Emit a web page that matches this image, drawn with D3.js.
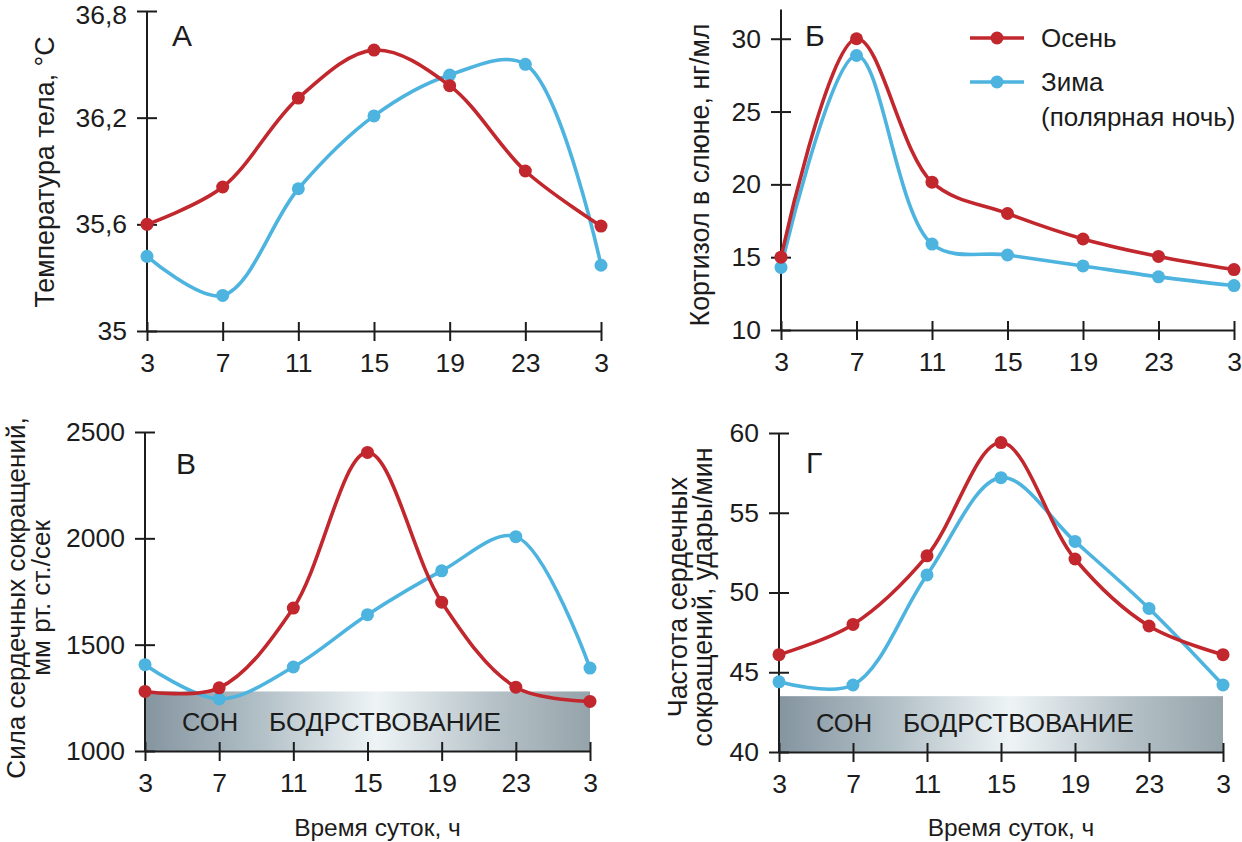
<!DOCTYPE html>
<html><head><meta charset="utf-8">
<script src="https://cdn.jsdelivr.net/npm/d3@7/dist/d3.min.js"></script>
<style>
html,body{margin:0;padding:0;background:#fff;}
svg{display:block;font-family:"Liberation Sans",Arial,sans-serif;}
</style></head>
<body><svg id="c" width="1242" height="842"></svg>
<script>
// ---- data ----
const hourLabels = ["3","7","11","15","19","23","3"];
const seriesNames = ["Осень","Зима","(полярная ночь)"];
// A: body temperature, °C
const tempAutumn = [35.60, 35.81, 36.31, 36.58, 36.38, 35.90, 35.59];
const tempWinter = [35.42, 35.20, 35.80, 36.21, 36.44, 36.50, 35.37];
const tempTicks = [35, 35.6, 36.2, 36.8];
const tempTickLabels = ["35","35,6","36,2","36,8"];
// Б: salivary cortisol, ng/ml
const cortAutumn = [15.0, 30.0, 20.15, 18.0, 16.25, 15.05, 14.15];
const cortWinter = [14.3, 28.85, 15.9, 15.15, 14.4, 13.65, 13.05];
const cortTicks = [10, 15, 20, 25, 30];
// В: heart contraction force
const forceAutumn = [1280, 1297, 1672, 2404, 1700, 1300, 1233];
const forceWinter = [1406, 1245, 1395, 1641, 1847, 2008, 1390];
const forceTicks = [1000, 1500, 2000, 2500];
const forceBand = 1280;
// Г: heart rate
const rateAutumn = [46.1, 48.0, 52.3, 59.4, 52.1, 47.9, 46.1];
const rateWinter = [44.4, 44.2, 51.1, 57.2, 53.2, 49.0, 44.2];
const rateTicks = [40, 45, 50, 55, 60];
const rateBand = 43.5;
const bandLabels = ["СОН", "БОДРСТВОВАНИЕ"];

const RED = "#c1272d", BLUE = "#4db3df", INK = "#1c1c1c";
const svg = d3.select("#c");

// gradient for sleep/wake band
const defs = svg.append("defs");
const grad = defs.append("linearGradient").attr("id","band").attr("x1","0").attr("x2","1").attr("y1","0").attr("y2","0");
[[0,"#8595a0"],[0.25,"#b0bec5"],[0.52,"#eef4f6"],[0.78,"#b6c2c8"],[1,"#95a3aa"]]
  .forEach(([o,c])=>grad.append("stop").attr("offset",o).attr("stop-color",c));

function panel(cfg){
  const g = svg.append("g");
  const x = d3.scaleLinear().domain([0, hourLabels.length-1]).range([cfg.x0, cfg.x1]);
  const y = d3.scaleLinear().domain(cfg.yDomain).range([cfg.yb, cfg.yt]);
  if (cfg.band !== undefined){
    g.append("rect").attr("x", x(0)).attr("width", x(6)-x(0))
      .attr("y", y(cfg.band)).attr("height", y(cfg.yDomain[0]) - y(cfg.band))
      .attr("fill","url(#band)");
    g.append("text").attr("x", x(0)+37).attr("y", cfg.yb-20).text(bandLabels[0])
      .attr("font-size",25.5).attr("fill",INK);
    g.append("text").attr("x", x(0)+124).attr("y", cfg.yb-20).text(bandLabels[1])
      .attr("font-size",25.5).attr("fill",INK).attr("textLength",cfg.wakeLen).attr("lengthAdjust","spacingAndGlyphs");
  }
  // y axis
  const ya = g.append("g").attr("transform",`translate(${cfg.x0},0)`)
    .call(d3.axisLeft(y).tickValues(cfg.ticks).tickSize(10).tickSizeOuter(0).tickPadding(10)
      .tickFormat((d,i)=>cfg.tickLabels ? cfg.tickLabels[i] : d));
  ya.select(".domain").attr("d", `M0,${cfg.axTop}V${cfg.yb}`);
  ya.selectAll(".tick line").attr("x1",10);
  // x axis
  const xa = g.append("g").attr("transform",`translate(0,${cfg.yb})`)
    .call(d3.axisBottom(x).tickValues(d3.range(7)).tickSize(10).tickSizeOuter(0).tickPadding(12)
      .tickFormat((d)=>hourLabels[d]));
  xa.selectAll(".tick line").attr("y1",-9);
  [ya,xa].forEach(a=>{
    a.selectAll(".domain,.tick line").attr("stroke",INK).attr("stroke-width",2);
    a.selectAll("text").attr("font-size",26.5).attr("fill",INK).attr("font-family","Liberation Sans, Arial, sans-serif");
  });
  if (cfg.topLabelShift) ya.selectAll(".tick text").filter(d=>d===cfg.yDomain[1]).attr("y",cfg.topLabelShift);
  // lines
  const line = d3.line().x((d,i)=>x(i)).y(d=>y(d)).curve(d3.curveCatmullRom.alpha(0.5));
  [[cfg.winter,BLUE],[cfg.autumn,RED]].forEach(([vals,col])=>{
    g.append("path").datum(vals).attr("d",line).attr("fill","none").attr("stroke",col)
      .attr("stroke-width",3.6).attr("stroke-linejoin","round");
  });
  [[cfg.winter,BLUE],[cfg.autumn,RED]].forEach(([vals,col])=>{
    g.selectAll(null).data(vals).enter().append("circle")
      .attr("cx",(d,i)=>x(i)).attr("cy",d=>y(d)).attr("r",6.5).attr("fill",col);
  });
  // panel letter
  g.append("text").attr("x",cfg.letterX).attr("y",cfg.letterY).text(cfg.letter)
    .attr("font-size",30).attr("fill",INK);
  // y title
  cfg.title.forEach((t,i)=>{
    g.append("text").attr("transform",`translate(${cfg.titleX[i]},${cfg.titleY}) rotate(-90)`)
      .attr("text-anchor","middle").attr("font-size",cfg.titleSize||26.8).attr("fill",INK).text(t);
  });
  if (cfg.xTitle){
    g.append("text").attr("x",(cfg.x0+cfg.x1)/2+10).attr("y",836).attr("text-anchor","middle")
      .attr("font-size",24.5).attr("fill",INK).text("Время суток, ч");
  }
}

panel({x0:147,x1:601,yt:11,yb:331,axTop:11,yDomain:[35,36.8],ticks:tempTicks,tickLabels:tempTickLabels,topLabelShift:4,
  autumn:tempAutumn,winter:tempWinter,letter:"А",letterX:172,letterY:46,
  title:["Температура тела, °С"],titleX:[54],titleY:172});
panel({x0:781,x1:1234,yt:9.6,yb:330,axTop:9.6,yDomain:[10,32],ticks:cortTicks,
  autumn:cortAutumn,winter:cortWinter,letter:"Б",letterX:805,letterY:46,
  title:["Кортизол в слюне, нг/мл"],titleX:[709],titleY:175});
panel({x0:145,x1:590,yt:432,yb:751,axTop:432,yDomain:[1000,2500],ticks:forceTicks,band:forceBand,wakeLen:232,
  autumn:forceAutumn,winter:forceWinter,letter:"В",letterX:176,letterY:474,titleSize:26,
  title:["Сила сердечных сокращений,","мм рт. ст./сек"],titleX:[25,50],titleY:598,xTitle:true});
panel({x0:779,x1:1223,yt:433,yb:752,axTop:433,yDomain:[40,60],ticks:rateTicks,band:rateBand,wakeLen:231,
  autumn:rateAutumn,winter:rateWinter,letter:"Г",letterX:806,letterY:473,
  title:["Частота сердечных","сокращений, удары/мин"],titleX:[687,712],titleY:597,xTitle:true});

// legend
const lg = svg.append("g");
[[RED,38,seriesNames[0]],[BLUE,82,seriesNames[1]]].forEach(([c,yy,t])=>{
  lg.append("line").attr("x1",970).attr("x2",1024).attr("y1",yy).attr("y2",yy).attr("stroke",c).attr("stroke-width",3.6);
  lg.append("circle").attr("cx",997).attr("cy",yy).attr("r",6.5).attr("fill",c);
  lg.append("text").attr("x",1041).attr("y",yy+9).attr("font-size",26).attr("fill",INK).text(t);
});
lg.append("text").attr("x",1041).attr("y",126).attr("font-size",26).attr("fill",INK).text(seriesNames[2]);
</script></body></html>
